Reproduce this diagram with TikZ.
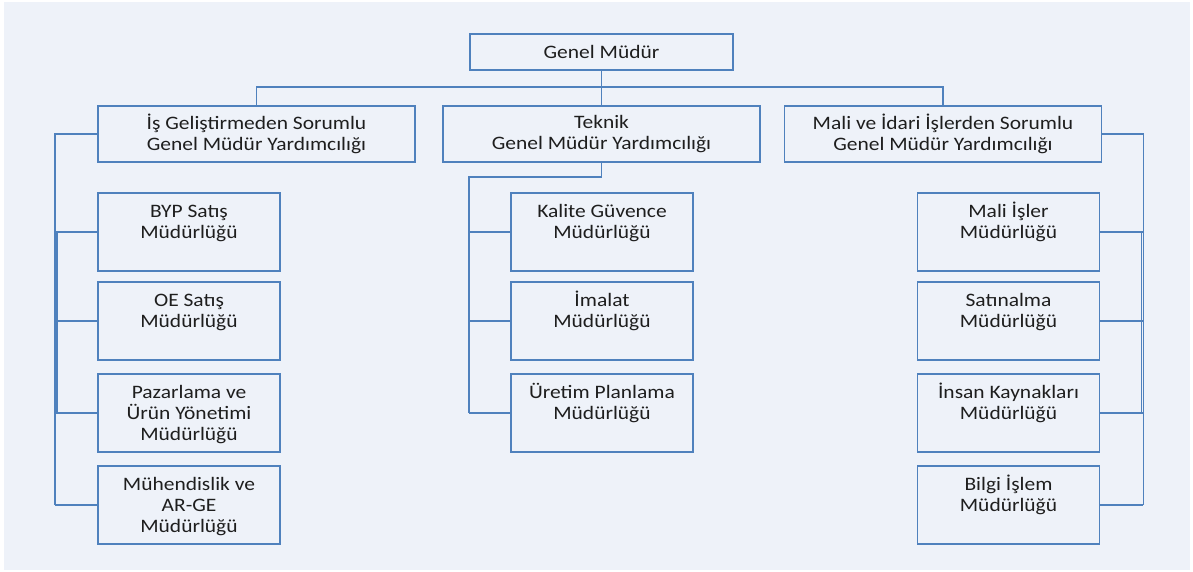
\documentclass[tikz,border=0pt]{standalone}
\usepackage{fontspec}
\setmainfont{Carlito}[FakeStretch=1.13]
\definecolor{orgblue}{HTML}{4F81BD}
\definecolor{bgblue}{HTML}{EEF2F9}
\definecolor{txtgray}{HTML}{1E1E1E}
\newcommand\firstline{\rule{0pt}{16pt}}
\begin{document}
\begin{tikzpicture}[x=1pt,y=-1pt,
  box/.style={draw=orgblue,line width=1.8pt,inner sep=0pt,align=center,text=txtgray,font=\fontsize{19}{21}\selectfont},
  head/.style={box,minimum width=263,minimum height=36},
  deputy/.style={box,minimum width=317,minimum height=56},
  dept/.style={box,minimum width=182,minimum height=78,
    label={[anchor=north,inner sep=0pt,align=center,text=txtgray,font=\fontsize{19}{21}\selectfont,yshift=-9pt]north:\firstline#1}},
  link/.style={draw=orgblue,line width=1.8pt}]
\useasboundingbox (0,0) rectangle (1193,572);
\fill[white] (0,0) rectangle (1193,572);
\fill[bgblue] (4,2) rectangle (1190,570);
%
\node[head] (gm) at (601.5,52) {Genel Müdür};
\node[deputy] (isg) at (256.5,134) {İş Geliştirmeden Sorumlu\\Genel Müdür Yardımcılığı};
\node[deputy] (tek) at (601.5,134) {Teknik\\Genel Müdür Yardımcılığı};
\node[deputy] (mali) at (943,134) {Mali ve İdari İşlerden Sorumlu\\Genel Müdür Yardımcılığı};
%
\node[dept={BYP Satış\\Müdürlüğü}] (byp) at (189,232) {};
\node[dept={OE Satış\\Müdürlüğü}] (oe) at (189,321) {};
\node[dept={Pazarlama ve\\Ürün Yönetimi\\Müdürlüğü}] (paz) at (189,413) {};
\node[dept={Mühendislik ve\\AR-GE\\Müdürlüğü}] (arg) at (189,505) {};
%
\node[dept={Kalite Güvence\\Müdürlüğü}] (kal) at (602,232) {};
\node[dept={İmalat\\Müdürlüğü}] (ima) at (602,321) {};
\node[dept={Üretim Planlama\\Müdürlüğü}] (upl) at (602,413) {};
%
\node[dept={Mali İşler\\Müdürlüğü}] (mis) at (1008.5,232) {};
\node[dept={Satınalma\\Müdürlüğü}] (sat) at (1008.5,321) {};
\node[dept={İnsan Kaynakları\\Müdürlüğü}] (ink) at (1008.5,413) {};
\node[dept={Bilgi İşlem\\Müdürlüğü}] (bil) at (1008.5,505) {};
%
\draw[link] (gm.south) -- (tek.north);
\draw[link] (isg.north) -- ++(0,-18) -| (mali.north);
%
\draw[link] (isg.west) -| ([xshift=-42pt]arg.west);
\foreach \n in {byp,oe,paz,arg} \draw[link] ([xshift=-42pt]\n.west) -- (\n.west);
\draw[link] ([xshift=-40pt]byp.west) -- ([xshift=-40pt]paz.west);
%
\draw[link] (tek.south) -- ++(0,14) -| ([xshift=-41pt]upl.west);
\foreach \n in {kal,ima,upl} \draw[link] ([xshift=-41pt]\n.west) -- (\n.west);
%
\draw[link] (mali.east) -| ([xshift=43pt]bil.east);
\foreach \n in {mis,sat,ink,bil} \draw[link] (\n.east) -- ([xshift=43pt]\n.east);
\draw[link] ([xshift=41pt]mis.east) -- ([xshift=41pt]ink.east);
\end{tikzpicture}
\end{document}
